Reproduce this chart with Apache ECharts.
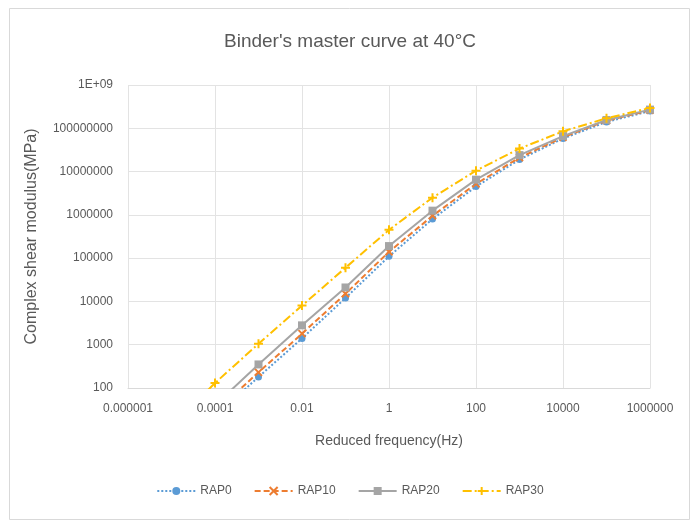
<!DOCTYPE html>
<html>
<head>
<meta charset="utf-8">
<script src="https://cdn.jsdelivr.net/npm/echarts@6/dist/echarts.min.js"></script>
<style>html,body{margin:0;padding:0;background:#fff}#c{width:700px;height:524px}</style>
</head>
<body>
<div id="c"></div>
<script>
const frequencies = [1e-5, 1e-4, 1e-3, 1e-2, 1e-1, 1, 10, 100, 1e3, 1e4, 1e5, 1e6];
const RAP0  = [null, 22, 180, 1400, 12000, 110000, 800000, 4.5e6, 1.9e7, 5.8e7, 1.4e8, 2.5e8];
const RAP10 = [null, 28, 230, 1800, 15000, 140000, 950000, 5.2e6, 2.1e7, 6.2e7, 1.5e8, 2.6e8];
const RAP20 = [null, 40, 350, 2800, 21000, 190000, 1.25e6, 6.5e6, 2.4e7, 6.6e7, 1.55e8, 2.7e8];
const RAP30 = [13, 130, 1050, 8000, 60000, 450000, 2.5e6, 1.05e7, 3.4e7, 8.5e7, 1.7e8, 2.95e8];
const seriesNames = ['RAP0', 'RAP10', 'RAP20', 'RAP30'];
const titleText = "Binder's master curve at 40°C";
const xName = 'Reduced frequency(Hz)';
const yName = 'Complex shear modulus(MPa)';

function pairs(vals) {
  const out = [];
  vals.forEach((v, i) => { if (v != null) out.push([frequencies[i], v]); });
  return out;
}
function xLabel(v) {
  const e = Math.round(Math.log10(v));
  return e < 0 ? v.toFixed(-e) : String(Math.pow(10, e));
}
function yLabel(v) {
  const e = Math.round(Math.log10(v));
  return e >= 9 ? '1E+0' + e : String(Math.pow(10, e));
}
const narrow = '"Liberation Sans Narrow", "Liberation Sans", Arial, sans-serif';
const xPath = 'path://M0,0L10,10M10,0L0,10';
const plusPath = 'path://M0,5L10,5M5,0L5,10';

const chart = echarts.init(document.getElementById('c'));
chart.setOption({
  animation: false,
  backgroundColor: '#fff',
  graphic: [{
    type: 'rect', shape: {x: 9.5, y: 8.5, width: 680, height: 511},
    style: {fill: 'none', stroke: '#d9d9d9', lineWidth: 1}
  }],
  title: {
    text: titleText, left: 'center', top: 27,
    textStyle: {fontFamily: narrow, fontSize: 19, fontWeight: 'normal', color: '#595959'}
  },
  grid: {left: 128, right: 50, top: 85, bottom: 136},
  legend: {
    bottom: 22, left: 'center', itemGap: 22, itemWidth: 38, itemHeight: 10,
    textStyle: {fontFamily: narrow, fontSize: 12, color: '#595959'},
    data: seriesNames
  },
  xAxis: {
    type: 'log', logBase: 10, min: 1e-6, max: 1e6, interval: 2,
    name: xName, nameLocation: 'middle', nameGap: 46,
    nameTextStyle: {fontFamily: narrow, fontSize: 14, color: '#595959'},
    axisLine: {show: true, lineStyle: {color: '#d9d9d9'}},
    axisTick: {show: false},
    axisLabel: {formatter: xLabel, fontFamily: narrow, fontSize: 12, color: '#595959', margin: 15},
    splitLine: {show: true, lineStyle: {color: '#e3e3e3'}},
    minorTick: {show: false}
  },
  yAxis: {
    type: 'log', logBase: 10, min: 100, max: 1e9, interval: 1,
    name: yName, nameLocation: 'middle', nameGap: 88, nameRotate: 90,
    nameTextStyle: {fontFamily: '"Liberation Sans", Arial, sans-serif', fontSize: 16, color: '#595959'},
    axisLine: {show: false},
    axisTick: {show: false},
    axisLabel: {formatter: yLabel, fontFamily: narrow, fontSize: 12, color: '#595959', margin: 15},
    splitLine: {show: true, lineStyle: {color: '#e3e3e3'}}
  },
  series: [
    {name: 'RAP0', type: 'line', data: pairs(RAP0), symbol: 'circle', symbolSize: 7,
     itemStyle: {color: '#5b9bd5'}, lineStyle: {color: '#5b9bd5', width: 2, type: [2, 2]}},
    {name: 'RAP10', type: 'line', data: pairs(RAP10), symbol: xPath, symbolSize: 7,
     itemStyle: {color: '#ed7d31', borderColor: '#ed7d31', borderWidth: 2}, lineStyle: {color: '#ed7d31', width: 2, type: [6, 3]}},
    {name: 'RAP20', type: 'line', data: pairs(RAP20), symbol: 'rect', symbolSize: 8,
     itemStyle: {color: '#a5a5a5'}, lineStyle: {color: '#a5a5a5', width: 2, type: 'solid'}},
    {name: 'RAP30', type: 'line', data: pairs(RAP30), symbol: plusPath, symbolSize: 9,
     itemStyle: {color: '#ffc000', borderColor: '#ffc000', borderWidth: 2}, lineStyle: {color: '#ffc000', width: 2, type: [9, 3, 2, 3]}}
  ]
});
</script>
</body>
</html>
